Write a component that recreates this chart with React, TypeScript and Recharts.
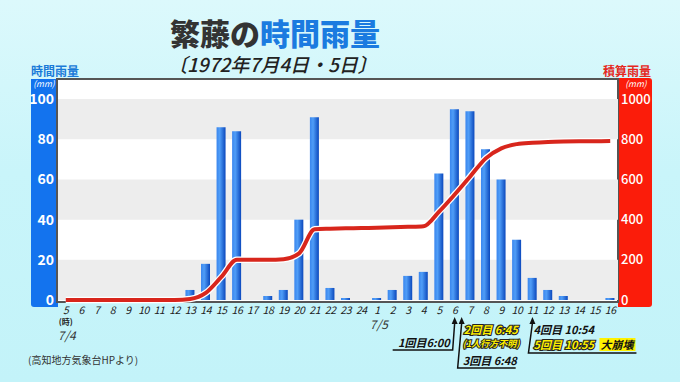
import React from "react";
import {
  Bar,
  ComposedChart,
  Line,
  ReferenceArea,
  XAxis,
  YAxis,
} from "recharts";

// hour labels, 7/4 05時 .. 7/5 16時
const hours = [
  "5", "6", "7", "8", "9", "10", "11", "12", "13", "14", "15", "16",
  "17", "18", "19", "20", "21", "22", "23", "24",
  "1", "2", "3", "4", "5", "6", "7", "8", "9", "10", "11", "12",
  "13", "14", "15", "16",
];

// 時間雨量 (mm)
const hourlyRain = [
  0, 0, 0, 0, 0, 0, 0, 0, 5, 18, 86, 84,
  0, 2, 5, 40, 91, 6, 1, 0,
  1, 5, 12, 14, 63, 95, 94, 75, 60, 30, 11, 5,
  2, 0, 0, 1,
];

// 積算雨量 (mm)
const totalRain = [
  0, 0, 0, 0, 0, 0, 0, 0, 5, 35, 115, 200,
  200, 200, 203, 232, 352, 355, 357, 358,
  360, 362, 364, 367, 440, 525, 615, 705, 755, 776, 783, 787,
  789, 790, 790, 791,
];

const leftTicks = [0, 20, 40, 60, 80, 100];
const rightTicks = [0, 200, 400, 600, 800, 1000];
const greyBands = [
  [0, 20],
  [40, 60],
  [80, 100],
];

const data = hours.map((h, i) => ({
  slot: i,
  rain: hourlyRain[i],
  total: totalRain[i],
}));

const W = 680;
const H = 382;
const PLOT_L = 58;
const PLOT_R = 618;
const PLOT_T = 79;
const PLOT_B = 300;
const STEP = (PLOT_R - PLOT_L) / hours.length;
const slotX = (i: number) => PLOT_L + STEP * (i + 0.5);

const FONT = '"Noto Sans CJK JP", "Noto Sans", sans-serif';

const HourTick = (props: any) => {
  const { x, y, payload } = props;
  const i = payload.value as number;
  return (
    <g>
      <text
        x={x}
        y={y + 14}
        textAnchor="middle"
        fontSize={10.5}
        fontStyle="italic"
        letterSpacing={-0.4}
        fill="#222"
      >
        {hours[i]}
      </text>
      {i === 0 && (
        <>
          <text x={x} y={y + 25} textAnchor="middle" fontSize={8} fontWeight={700} fill="#222">
            (時)
          </text>
          <text x={x + 1} y={y + 40} textAnchor="middle" fontSize={12} fontStyle="italic" fill="#333">
            7/4
          </text>
        </>
      )}
      {i === 20 && (
        <text x={x + 2} y={y + 29} textAnchor="middle" fontSize={12} fontStyle="italic" fill="#333">
          7/5
        </text>
      )}
    </g>
  );
};

const Arrow = ({ x, y }: { x: number; y: number }) => (
  <polygon points={`${x},${y} ${x - 3},${y + 7} ${x + 3},${y + 7}`} fill="#111" />
);

const Annotations = () => {
  const ax = slotX(25); // 6:00
  const bx = ax + 7; // 6:45 / 6:48
  const cx = slotX(30); // 10:54 / 10:55
  const yellow = {
    fill: "#fff000",
    stroke: "#222",
    strokeWidth: 2.2,
    paintOrder: "stroke" as const,
  };
  return (
    <svg
      width={W}
      height={H}
      style={{ position: "absolute", left: 0, top: 0, pointerEvents: "none" }}
      fontFamily={FONT}
      fontWeight={700}
      fontStyle="italic"
    >
      {/* 1回目 */}
      <Arrow x={ax} y={317} />
      <polyline
        points={`${ax - 62},350 ${ax - 2},350 ${ax},323`}
        fill="none"
        stroke="#111"
        strokeWidth={1.5}
      />
      <text x={ax - 5} y={347} textAnchor="end" fontSize={11} fill="#111">
        1回目6:00
      </text>

      {/* 2回目・3回目 */}
      <Arrow x={bx} y={317} />
      <polyline
        points={`${bx},323 ${bx - 4},368 ${bx + 54},368`}
        fill="none"
        stroke="#111"
        strokeWidth={1.5}
      />
      <text x={bx + 2} y={334} fontSize={11} {...yellow}>
        2回目 6:45
      </text>
      <text x={bx + 1} y={347} fontSize={9} {...yellow} strokeWidth={2}>
        (1人行方不明)
      </text>
      <text x={bx + 1} y={365} fontSize={11} fill="#111">
        3回目 6:48
      </text>

      {/* 4回目・5回目 */}
      <Arrow x={cx} y={317} />
      <polyline
        points={`${cx},323 ${cx - 4},353 ${cx + 104},353`}
        fill="none"
        stroke="#111"
        strokeWidth={1.5}
      />
      <text x={cx + 1} y={334} fontSize={11} fill="#111">
        4回目 10:54
      </text>
      <rect x={cx + 67} y={338} width={36} height={13} fill="#fff200" />
      <text x={cx + 1} y={349} fontSize={11} {...yellow}>
        5回目 10:55
      </text>
      <text x={cx + 68} y={349} fontSize={11} fill="#111">
        大崩壊
      </text>
    </svg>
  );
};

export default function App() {
  return (
    <div
      style={{
        position: "fixed",
        left: 0,
        top: 0,
        width: W,
        height: H,
        overflow: "hidden",
        fontFamily: FONT,
        background: "linear-gradient(180deg, #dcf9fc 0%, #c9f5fa 45%, #c3f3f9 100%)",
      }}
    >
      {/* title */}
      <div
        style={{
          position: "absolute",
          left: 170,
          top: 17,
          fontSize: 30,
          fontWeight: 900,
          lineHeight: 1,
          color: "#333",
          whiteSpace: "nowrap",
        }}
      >
        繁藤の<span style={{ color: "#1b7be0" }}>時間雨量</span>
      </div>
      <div
        style={{
          position: "absolute",
          left: 168,
          top: 54,
          fontSize: 19,
          fontWeight: 500,
          fontStyle: "italic",
          lineHeight: 1,
          color: "#222",
          whiteSpace: "nowrap",
        }}
      >
        〔1972年7月4日・5日〕
      </div>

      {/* axis captions */}
      <div
        style={{
          position: "absolute",
          left: 31,
          top: 65,
          fontSize: 12,
          fontWeight: 700,
          lineHeight: 1,
          color: "#1a7ad8",
        }}
      >
        時間雨量
      </div>
      <div
        style={{
          position: "absolute",
          left: 603,
          top: 65,
          fontSize: 12,
          fontWeight: 700,
          lineHeight: 1,
          color: "#e5281e",
        }}
      >
        積算雨量
      </div>

      {/* side panels */}
      <div
        style={{
          position: "absolute",
          left: 31,
          top: 79,
          width: 27,
          height: 228,
          background: "#1373ee",
          borderBottomLeftRadius: 3,
        }}
      />
      <div
        style={{
          position: "absolute",
          left: 618,
          top: 78,
          width: 34,
          height: 229,
          background: "#fb1c0a",
          borderTopRightRadius: 3,
          borderBottomRightRadius: 3,
        }}
      />
      <div
        style={{
          position: "absolute",
          left: 31,
          top: 79,
          width: 26,
          textAlign: "center",
          fontSize: 8.5,
          fontStyle: "italic",
          color: "#fff",
          lineHeight: 1,
          whiteSpace: "nowrap",
        }}
      >
        (mm)
      </div>
      <div
        style={{
          position: "absolute",
          left: 620,
          top: 79,
          width: 32,
          textAlign: "center",
          fontSize: 8.5,
          fontStyle: "italic",
          color: "#fff",
          lineHeight: 1,
          whiteSpace: "nowrap",
        }}
      >
        (mm)
      </div>

      {/* plot frame */}
      <div
        style={{
          position: "absolute",
          left: PLOT_L - 2,
          top: PLOT_T - 1,
          width: PLOT_R - PLOT_L + 3,
          height: PLOT_B - PLOT_T + 4,
          boxSizing: "border-box",
          border: "2px solid #555",
          background: "#fff",
        }}
      />

      <div style={{ position: "absolute", left: 0, top: 0 }}>
        <ComposedChart
          width={W}
          height={H}
          data={data}
          margin={{ top: PLOT_T, right: W - 652, bottom: 0, left: 31 }}
          barSize={9}
        >
          <defs>
            <linearGradient id="barGrad" x1="0" y1="0" x2="1" y2="0">
              <stop offset="0%" stopColor="#3a86ee" />
              <stop offset="35%" stopColor="#4f9df7" />
              <stop offset="100%" stopColor="#0b48bd" />
            </linearGradient>
          </defs>
          <XAxis
            dataKey="slot"
            type="category"
            interval={0}
            height={H - PLOT_B}
            axisLine={false}
            tickLine={false}
            tickSize={0}
            tickMargin={0}
            tick={<HourTick />}
          />
          <YAxis
            yAxisId="left"
            orientation="left"
            domain={[0, 110]}
            ticks={leftTicks}
            interval={0}
            width={PLOT_L - 31}
            axisLine={false}
            tickLine={false}
            tickSize={0}
            tickMargin={4}
            tick={{ fill: "#fff", fontSize: 14, fontWeight: 700 }}
          />
          <YAxis
            yAxisId="right"
            orientation="right"
            domain={[0, 1100]}
            ticks={rightTicks}
            interval={0}
            width={652 - PLOT_R}
            axisLine={false}
            tickLine={false}
            tickSize={0}
            tickMargin={3}
            tick={{ fill: "#fff", fontSize: 13, fontWeight: 500 }}
          />
          {greyBands.map(([a, b]) => (
            <ReferenceArea
              key={a}
              yAxisId="left"
              y1={a}
              y2={b}
              fill="#ededed"
              fillOpacity={1}
              stroke="none"
              ifOverflow="hidden"
            />
          ))}
          <Bar
            yAxisId="left"
            dataKey="rain"
            fill="url(#barGrad)"
            isAnimationActive={false}
          />
          <Line
            yAxisId="right"
            dataKey="total"
            type="monotone"
            stroke="#ffffff"
            strokeWidth={6.5}
            dot={false}
            activeDot={false}
            isAnimationActive={false}
          />
          <Line
            yAxisId="right"
            dataKey="total"
            type="monotone"
            stroke="#d8261c"
            strokeWidth={4}
            dot={false}
            activeDot={false}
            isAnimationActive={false}
          />
        </ComposedChart>
      </div>

      <Annotations />

      <div
        style={{
          position: "absolute",
          left: 28,
          top: 355,
          fontSize: 10,
          color: "#333",
          lineHeight: 1,
          whiteSpace: "nowrap",
        }}
      >
        (高知地方気象台HPより)
      </div>
    </div>
  );
}
